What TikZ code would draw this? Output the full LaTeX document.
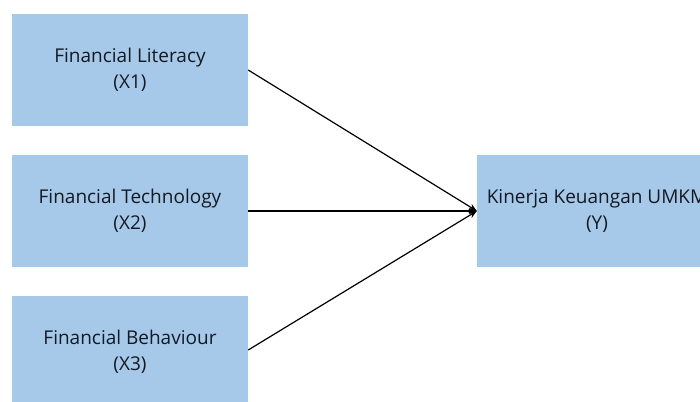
\documentclass[tikz,border=0pt]{standalone}
\usepackage{fontspec}
\setmainfont{Open Sans}
\usetikzlibrary{arrows.meta}
\definecolor{boxblue}{RGB}{166,201,234}
\definecolor{txt}{RGB}{20,25,35}
\begin{document}
\begin{tikzpicture}[x=1pt,y=-1pt,
  varbox/.style={fill=boxblue,draw=none,minimum width=236pt,minimum height=112pt,
    inner sep=0pt,align=center,text=txt,font=\fontsize{19}{26}\selectfont},
  link/.style={line width=1.2pt,-{Stealth[length=8pt,width=6.5pt]}}]
\useasboundingbox (0,0) rectangle (700,401);
\clip (0,0) rectangle (700,401);
\fill[white] (0,0) rectangle (700,401);
\node[varbox] (x1) at (130,70) {Financial Literacy\\(X1)};
\node[varbox] (x2) at (130,211) {Financial Technology\\(X2)};
\node[varbox] (x3) at (130,352) {Financial Behaviour\\(X3)};
\node[varbox,minimum width=240pt] (y) at (597,211) {Kinerja Keuangan UMKM\\(Y)};
\draw[link] (x1.east) -- (y.west);
\draw[link] (x2.east) -- (y.west);
\draw[link] ([yshift=2pt]x3.east) -- (y.west);
\end{tikzpicture}
\end{document}
